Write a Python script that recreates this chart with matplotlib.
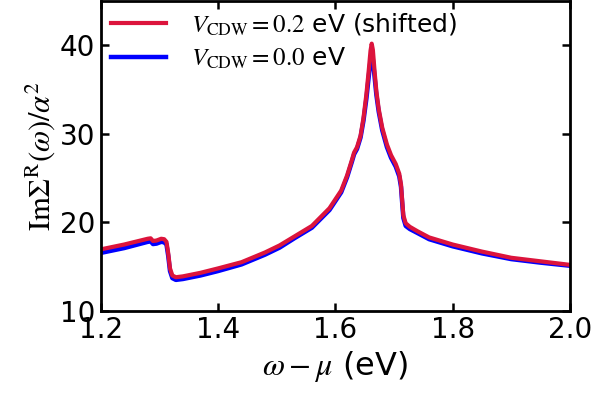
import matplotlib
matplotlib.use("Agg")
import matplotlib.pyplot as plt

plt.rcParams['mathtext.fontset'] = 'stix'
plt.rcParams['font.family'] = 'DejaVu Sans'

# energies (eV)
omega = [1.20, 1.24, 1.28, 1.285, 1.289, 1.295, 1.303, 1.308, 1.312, 1.315,
         1.318, 1.322, 1.328, 1.34, 1.37, 1.40, 1.44, 1.48, 1.505, 1.53,
         1.56, 1.59, 1.61, 1.62, 1.628, 1.632, 1.637, 1.643, 1.648, 1.653,
         1.657, 1.660, 1.662, 1.664, 1.667, 1.670, 1.674, 1.680, 1.688, 1.695,
         1.703, 1.709, 1.712, 1.714, 1.716, 1.720, 1.727, 1.74, 1.76, 1.78,
         1.80, 1.85, 1.90, 1.95, 2.00]

# V_CDW = 0.2 eV (shifted)
sigma_cdw = [16.95, 17.5, 18.15, 18.2, 17.9, 17.95, 18.15, 18.1, 17.8, 16.5,
             14.8, 14.0, 13.8, 13.9, 14.3, 14.8, 15.5, 16.6, 17.4, 18.4,
             19.6, 21.6, 23.6, 25.3, 27.0, 27.9, 28.5, 29.8, 31.8, 34.5,
             37.2, 39.4, 40.2, 39.5, 37.0, 34.8, 32.8, 30.7, 28.8, 27.6,
             26.6, 25.5, 24.3, 22.5, 20.8, 19.9, 19.5, 19.0, 18.3, 17.9,
             17.5, 16.7, 16.0, 15.6, 15.2]

# V_CDW = 0.0 eV
sigma_0 = [16.55, 17.1, 17.8, 17.85, 17.55, 17.6, 17.8, 17.75, 17.5, 16.2,
           14.5, 13.7, 13.5, 13.6, 14.0, 14.5, 15.25, 16.35, 17.15, 18.2,
           19.4, 21.4, 23.4, 25.1, 26.8, 27.7, 28.3, 29.6, 31.5, 34.0,
           36.5, 38.3, 39.0, 38.4, 36.4, 34.4, 32.5, 30.4, 28.5, 27.3,
           26.3, 25.2, 24.0, 22.2, 20.5, 19.6, 19.25, 18.8, 18.1, 17.7,
           17.3, 16.5, 15.85, 15.45, 15.1]

fig = plt.figure(figsize=(5.93, 3.94), dpi=100)
ax = fig.add_axes([0.170, 0.211, 0.791, 0.786])

l0, = ax.plot(omega, sigma_0, color='blue', lw=3.2)
l1, = ax.plot(omega, sigma_cdw, color='crimson', lw=3.0)

ax.set_xlim(1.2, 2.0)
ax.set_ylim(10, 45)
ax.set_xticks([1.2, 1.4, 1.6, 1.8, 2.0])
ax.set_yticks([10, 20, 30, 40])

ax.tick_params(direction='in', top=True, right=True, labelsize=20,
               length=6, width=1.8, pad=4)
for s in ax.spines.values():
    s.set_linewidth(2)

ax.set_xlabel(r'$\omega-\mu$ (eV)', fontsize=23, labelpad=3)
ax.set_ylabel(r'$\mathrm{Im}\Sigma^{\mathrm{R}}(\omega)/\alpha^2$', fontsize=22, labelpad=2)

ax.legend([l1, l0],
          [r'$V_{\mathrm{CDW}}=0.2$ eV (shifted)', r'$V_{\mathrm{CDW}}=0.0$ eV'],
          loc='upper left', frameon=False, fontsize=18, handlelength=2.2,
          borderaxespad=0.1, labelspacing=0.35, borderpad=0.3,
          handletextpad=1.0)

fig.savefig('out.png', dpi=100)
